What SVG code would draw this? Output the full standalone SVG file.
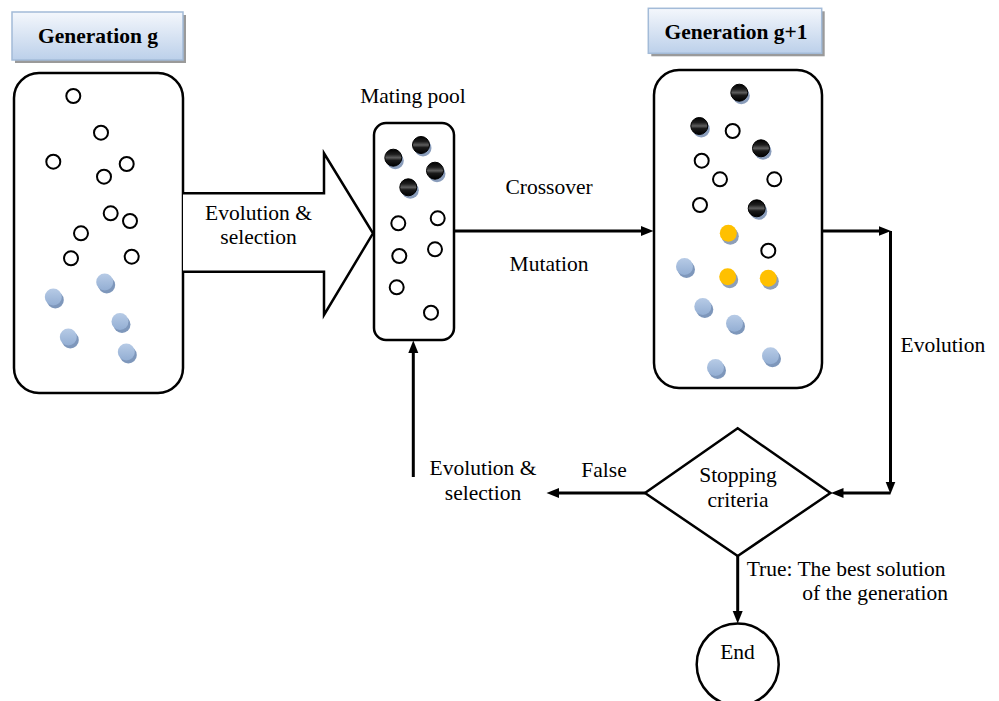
<svg xmlns="http://www.w3.org/2000/svg" xmlns:xlink="http://www.w3.org/1999/xlink" width="999" height="701" viewBox="0 0 999 701">
<style>
text{font-family:"Liberation Serif","Times New Roman",serif;font-size:21.5px;fill:#000}
.b{font-weight:bold}
.m{text-anchor:middle}
.box{fill:#fff;stroke:#000;stroke-width:2.5}
.hdr{fill:url(#hg);stroke:#a3bbd8;stroke-width:1.5}
.shd{fill:#9a9a9a}
.wc{fill:#fff;stroke:#000;stroke-width:2}
.con{fill:none;stroke:#000;stroke-width:3}
</style>
<defs>
<linearGradient id="hg" x1="0" y1="0" x2="0" y2="1">
<stop offset="0" stop-color="#f4f7fc"/>
<stop offset="1" stop-color="#bcd0ea"/>
</linearGradient>
<linearGradient id="dg" x1="0" y1="0" x2="0" y2="1">
<stop offset="0" stop-color="#000"/>
<stop offset="0.3" stop-color="#1e1e1e"/>
<stop offset="0.5" stop-color="#5e5e5e"/>
<stop offset="0.65" stop-color="#1a1a1a"/>
<stop offset="1" stop-color="#000"/>
</linearGradient>
<linearGradient id="bg" x1="0" y1="0" x2="0" y2="1">
<stop offset="0" stop-color="#b7cbe6"/>
<stop offset="1" stop-color="#93aed3"/>
</linearGradient>
<g id="wc"><circle r="7" class="wc"/></g>
<g id="dc"><circle cx="2" cy="3" r="8.5" fill="#8a9dbb"/><circle r="8.5" fill="url(#dg)" stroke="#000" stroke-width="1"/></g>
<g id="bc"><circle cx="2" cy="3" r="8.5" fill="#7e97bb"/><circle r="8.5" fill="url(#bg)"/></g>
<g id="yc"><circle cx="2" cy="3" r="8.5" fill="#8e9fb8"/><circle r="8.5" fill="#ffc000"/></g>
<marker id="ah" markerUnits="userSpaceOnUse" markerWidth="13" markerHeight="11" refX="4" refY="5.5" orient="auto">
<path d="M0,0.5 L12.5,5.5 L0,10.5 z" fill="#000"/>
</marker>
</defs>

<g id="header-g">
<rect x="15" y="15" width="171" height="48" class="shd"/>
<rect x="12" y="12" width="171" height="48" class="hdr"/>
<text x="98" y="43" class="b m">Generation g</text>
</g>

<g id="generation-g">
<rect x="14" y="73" width="169" height="320" rx="25" class="box"/>
<use href="#wc" x="73.3" y="96"/>
<use href="#wc" x="101" y="132.7"/>
<use href="#wc" x="53.3" y="161.7"/>
<use href="#wc" x="126.7" y="164"/>
<use href="#wc" x="104" y="176.7"/>
<use href="#wc" x="110.7" y="213.3"/>
<use href="#wc" x="130" y="221"/>
<use href="#wc" x="81" y="233.3"/>
<use href="#wc" x="71" y="258.3"/>
<use href="#wc" x="131.7" y="256.7"/>
<use href="#bc" x="104.7" y="282"/>
<use href="#bc" x="53.3" y="297"/>
<use href="#bc" x="120" y="321.5"/>
<use href="#bc" x="68.3" y="337"/>
<use href="#bc" x="126.3" y="352"/>
</g>

<g id="block-arrow">
<path d="M183,193.3 H324 V153.3 L373,233.3 L324,315 V271.7 H183" fill="#fff" stroke="#000" stroke-width="2.5" stroke-linejoin="miter"/>
<text x="258.5" y="220" class="m">Evolution &amp;</text>
<text x="258.5" y="244" class="m">selection</text>
</g>

<g id="mating-pool">
<text x="413" y="103" class="m">Mating pool</text>
<rect x="374" y="123" width="80" height="217" rx="12" class="box"/>
<use href="#dc" x="393.3" y="157.7"/>
<use href="#dc" x="421" y="145"/>
<use href="#dc" x="435" y="170.7"/>
<use href="#dc" x="408.3" y="187.3"/>
<use href="#wc" x="398.3" y="223.3"/>
<use href="#wc" x="437.7" y="218.3"/>
<use href="#wc" x="399.3" y="256"/>
<use href="#wc" x="435" y="249.3"/>
<use href="#wc" x="396.7" y="287.3"/>
<use href="#wc" x="431" y="312.7"/>
</g>

<g id="header-g1">
<rect x="651.3" y="11.3" width="173.4" height="45" class="shd"/>
<rect x="648.3" y="8.3" width="173.4" height="45" class="hdr"/>
<text x="736" y="39" class="b m">Generation g+1</text>
</g>

<g id="generation-g1">
<rect x="654" y="70" width="168" height="318" rx="25" class="box"/>
<use href="#dc" x="739.3" y="92.7"/>
<use href="#dc" x="699.3" y="126"/>
<use href="#dc" x="761" y="148.3"/>
<use href="#dc" x="756.7" y="208.3"/>
<use href="#wc" x="732.7" y="131"/>
<use href="#wc" x="701.7" y="160.7"/>
<use href="#wc" x="720" y="179.3"/>
<use href="#wc" x="774.3" y="179.3"/>
<use href="#wc" x="700" y="205"/>
<use href="#wc" x="768.3" y="250.7"/>
<use href="#yc" x="728.3" y="233.3"/>
<use href="#yc" x="727.7" y="276.7"/>
<use href="#yc" x="768.3" y="278.3"/>
<use href="#bc" x="684.5" y="266.5"/>
<use href="#bc" x="702.8" y="306.5"/>
<use href="#bc" x="734.5" y="323.2"/>
<use href="#bc" x="770.5" y="355.8"/>
<use href="#bc" x="715.5" y="367.5"/>
</g>

<g id="stopping-criteria">
<path d="M737.7,428.3 L830.4,493 L737.7,556 L645,493 z" fill="#fff" stroke="#000" stroke-width="2.5"/>
<text x="738" y="481.7" class="m">Stopping</text>
<text x="738" y="506.7" class="m">criteria</text>
</g>

<g id="end">
<circle cx="737.7" cy="664.5" r="41" fill="#fff" stroke="#000" stroke-width="2.5"/>
<text x="737.5" y="659" class="m">End</text>
</g>

<g id="connectors">
<path d="M454,231 H645" class="con" marker-end="url(#ah)"/>
<path d="M822,231 H882.5" class="con" marker-end="url(#ah)"/>
<path d="M890.5,231 V485.5" class="con" marker-end="url(#ah)"/>
<path d="M890.5,493 H839.5" class="con" marker-end="url(#ah)"/>
<path d="M645,493 H555" class="con" marker-end="url(#ah)"/>
<path d="M413.3,477 V349" class="con" marker-end="url(#ah)"/>
<path d="M737.7,556 V615" class="con" marker-end="url(#ah)"/>
</g>

<g id="labels">
<text x="549" y="194" class="m">Crossover</text>
<text x="549" y="270.5" class="m">Mutation</text>
<text x="900.5" y="351.7">Evolution</text>
<text x="604" y="477.3" class="m">False</text>
<text x="483" y="474.7" class="m">Evolution &amp;</text>
<text x="483" y="500" class="m">selection</text>
<text x="746.7" y="576">True: The best solution</text>
<text x="948" y="600" text-anchor="end">of the generation</text>
</g>
</svg>
